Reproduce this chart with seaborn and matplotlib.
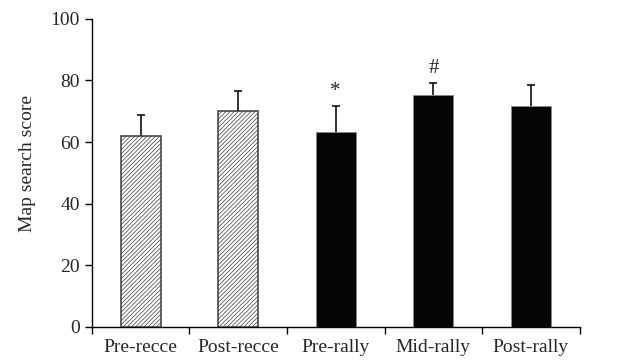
import numpy as np
import matplotlib
matplotlib.use("Agg")
import matplotlib.pyplot as plt
import pandas as pd
import seaborn as sns

groups = ["Pre-recce", "Post-recce", "Pre-rally", "Mid-rally", "Post-rally"]
scores = [62.0, 70.1, 63.3, 75.3, 71.8]
sd = [6.8, 6.5, 8.5, 3.9, 6.8]
marks = ["", "", "*", "#", ""]
hatched = [True, True, False, False, False]

sns.set_style("ticks")
plt.rcParams["font.family"] = ["Liberation Serif", "DejaVu Serif"]
plt.rcParams["hatch.color"] = "#b0b0b0"
plt.rcParams["hatch.linewidth"] = 0.5

df = pd.DataFrame({"group": groups, "score": scores})

fig = plt.figure(figsize=(6.2, 3.62), dpi=100)
ax = fig.add_axes([0.148, 0.097, 0.787, 0.851])
sns.barplot(data=df, x="group", y="score", width=0.41, ax=ax, errorbar=None, zorder=3)

for p, h in zip(ax.patches, hatched):
    if h:
        p.set_facecolor("white")
        p.set_hatch("////////")
        p.set_edgecolor("#3a3a3a")
        p.set_linewidth(1.1)
    else:
        p.set_facecolor("#050505")
        p.set_edgecolor("#888888")
        p.set_linewidth(0.6)

x = np.arange(len(groups))
_, caps, _ = ax.errorbar(x, scores, yerr=[np.zeros(len(sd)), sd], fmt="none",
                         ecolor="#111111", elinewidth=1.2, capsize=3,
                         capthick=1.2, zorder=2)
caps[0].set_visible(False)
for i, m in enumerate(marks):
    if m:
        ax.text(x[i], scores[i] + sd[i] + 1.6, m, ha="center", va="bottom",
                fontsize=15, color="#222222")

ax.set_ylim(0, 100)
ax.set_xlim(-0.5, 4.5)
ax.set_yticks([0, 20, 40, 60, 80, 100])
ax.set_ylabel("Map search score", fontsize=14)
ax.yaxis.set_label_coords(-0.115, 0.53)
ax.set_xlabel("")
ax.set_xticks(np.arange(-0.5, 5.0, 1.0), minor=True)
ax.tick_params(axis="x", which="major", length=0, labelsize=14, pad=9)
ax.tick_params(axis="x", which="minor", length=5, width=1, color="black")
ax.tick_params(axis="y", length=5, width=1, labelsize=14, color="black")
sns.despine(ax=ax)
for s in ["left", "bottom"]:
    ax.spines[s].set_color("black")
    ax.spines[s].set_linewidth(1.0)

fig.savefig("out.png", dpi=100)
